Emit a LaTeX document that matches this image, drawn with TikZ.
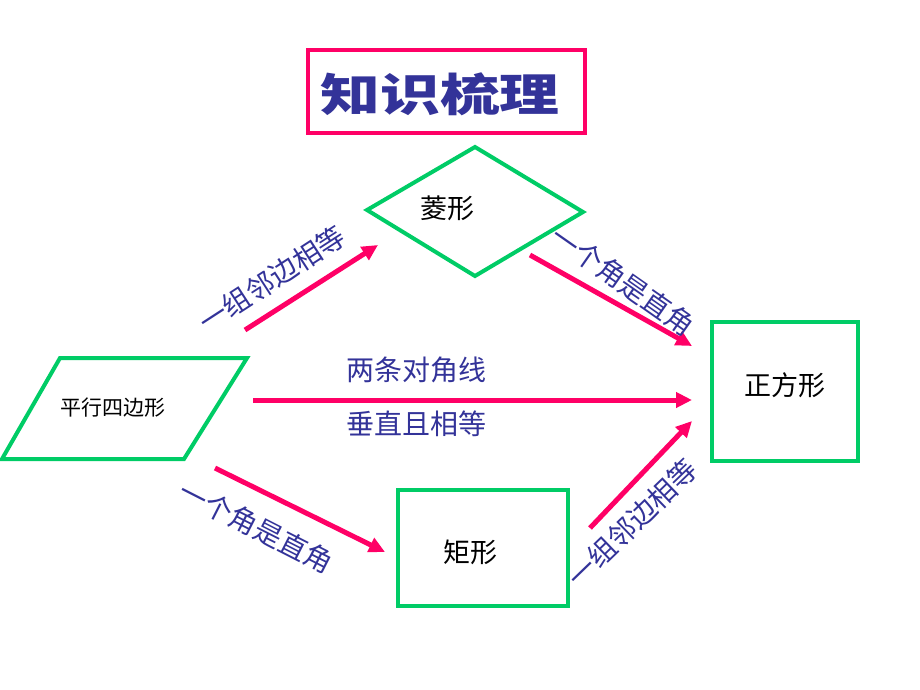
\documentclass[tikz,border=0pt]{standalone}
\usepackage{fontspec}
\newfontfamily\cjk{Noto Sans CJK SC}
\usetikzlibrary{arrows.meta}
\definecolor{pk}{HTML}{FF0066}
\definecolor{gr}{HTML}{00CC66}
\definecolor{bl}{HTML}{333399}
\tikzset{
  shapebox/.style={draw=gr,line width=4pt,fill=white},
  arr/.style={draw=pk,line width=5pt,-{Triangle[length=16pt,width=15pt]}},
  lab/.style={text=bl,font=\cjk\fontsize{28}{32}\selectfont,inner sep=0pt},
  inner/.style={text=black,font=\cjk\fontsize{27}{32}\selectfont,inner sep=0pt}
}
\begin{document}
\begin{tikzpicture}[x=1pt,y=-1pt]
\useasboundingbox (0,0) rectangle (920,690);
% title
\draw[draw=pk,line width=4pt] (308,50) rectangle (585,133);
\node[text=bl,font=\cjk\bfseries\fontsize{45}{48}\selectfont,inner sep=0pt] (title) at (440,94) {\scalebox{1.33}[1]{知识梳理}};
% shapes
\draw[shapebox] (475,147) -- (583,212) -- (475,276) -- (367,210) -- cycle;
\node[inner] (ling) at (447,208) {菱形};
\draw[shapebox] (60,358) -- (247,358) -- (184,459) -- (2,459) -- cycle;
\node[inner,font=\cjk\fontsize{21}{24}\selectfont] (pxsbx) at (113,408) {平行四边形};
\draw[shapebox] (712,322) rectangle (858,461);
\node[inner] (zfx) at (785,385) {正方形};
\draw[shapebox] (398,490) rectangle (568,606);
\node[inner] (jx) at (470,552) {矩形};
% arrow end points
\coordinate (a1s) at (245,330); \coordinate (a1e) at (378,245);
\coordinate (a2s) at (530,255); \coordinate (a2e) at (692,346);
\coordinate (a3s) at (253,400); \coordinate (a3e) at (692,400);
\coordinate (a4s) at (215,468); \coordinate (a4e) at (385,552);
\coordinate (a5s) at (590,528); \coordinate (a5e) at (692,421);
\draw[arr] (a1s) -- (a1e);
\draw[arr] (a2s) -- (a2e);
\draw[arr] (a3s) -- (a3e);
\draw[arr] (a4s) -- (a4e);
\draw[arr] (a5s) -- (a5e);
% labels
\node[lab,rotate=33] (l1) at (272,279) {一组邻边相等};
\node[lab,rotate=-35] (l2) at (623,281) {一个角是直角};
\node[lab] (l3) at (416,370) {两条对角线};
\node[lab] (l4) at (416,424) {垂直且相等};
\node[lab,rotate=-27] (l5) at (256,527) {一个角是直角};
\node[lab,rotate=44] (l6) at (632,523) {一组邻边相等};
\end{tikzpicture}
\end{document}
